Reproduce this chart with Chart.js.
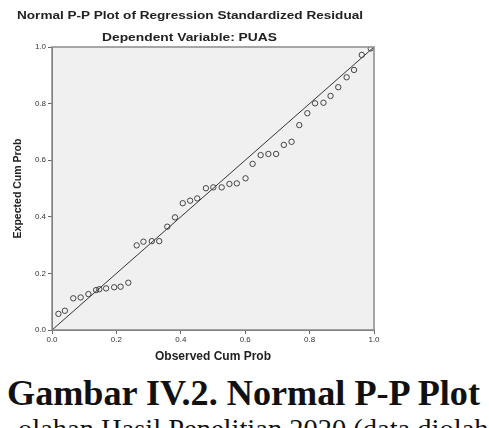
<!DOCTYPE html>
<html>
<head>
<meta charset="utf-8">
<script src="https://cdn.jsdelivr.net/npm/chart.js@4/dist/chart.umd.min.js"></script>
<style>
  html, body { margin: 0; padding: 0; background: #fff; overflow: hidden; }
  #wrap { position: relative; width: 489px; height: 428px; }
  #chart { position: absolute; left: 0; top: 0; }
  .txt { position: absolute; white-space: nowrap; transform-origin: 0 50%; }
  .small { font-family: "Liberation Sans", Arial, sans-serif; font-weight: bold; color: #222; }
  .serif { font-family: "Liberation Serif", "Times New Roman", serif; color: #111; }
</style>
</head>
<body>
<div id="wrap">
  <canvas id="chart" width="489" height="370"></canvas>
  <div class="txt small" id="t1" style="left:17px; top:9px; font-size:11px;">Normal P-P Plot of Regression Standardized Residual</div>
  <div class="txt small" id="t2" style="left:102px; top:31px; font-size:11px;">Dependent Variable: PUAS</div>
  <div class="txt serif" id="cap" style="left:7px; top:374px; font-size:35px; font-weight:bold;">Gambar IV.2. Normal P-P Plot</div>
  <div class="txt serif" id="src" style="left:18px; top:414px; font-size:27px;">olahan Hasil Penelitian 2020 (data diolah)</div>
</div>
<script>
// Observed vs expected cumulative probability
const observed = [0.020, 0.040, 0.066, 0.089, 0.113, 0.137, 0.147, 0.168, 0.193, 0.213,
                  0.237, 0.263, 0.284, 0.310, 0.333, 0.358, 0.382, 0.406, 0.429, 0.451,
                  0.478, 0.501, 0.527, 0.551, 0.574, 0.601, 0.623, 0.648, 0.672, 0.696,
                  0.720, 0.744, 0.768, 0.793, 0.817, 0.843, 0.865, 0.889, 0.915, 0.938,
                  0.962, 0.990];
const expected = [0.057, 0.068, 0.112, 0.115, 0.127, 0.141, 0.144, 0.147, 0.151, 0.153,
                  0.167, 0.299, 0.312, 0.314, 0.314, 0.365, 0.398, 0.448, 0.457, 0.465,
                  0.501, 0.504, 0.504, 0.516, 0.518, 0.536, 0.587, 0.618, 0.622, 0.622,
                  0.654, 0.665, 0.724, 0.766, 0.801, 0.803, 0.827, 0.858, 0.893, 0.919,
                  0.972, 0.995];
const refLine = [0, 1];
const tickValues = [0, 0.2, 0.4, 0.6, 0.8, 1.0];

// stretch text to the width it has in the picture
function fitWidth(id, w) {
    const el = document.getElementById(id);
    const real = el.getBoundingClientRect().width;
    el.style.transform = 'scaleX(' + (w / real) + ')';
}
fitWidth('t1', 346);
fitWidth('t2', 175);
fitWidth('cap', 473);
fitWidth('src', 480);

const plotFrame = {
    id: 'plotFrame',
    beforeDraw(chart) {
        const a = chart.chartArea, ctx = chart.ctx;
        ctx.save();
        ctx.fillStyle = '#f0f0f0';
        ctx.fillRect(a.left, a.top, a.right - a.left, a.bottom - a.top);
        ctx.restore();
    },
    afterDraw(chart) {
        const a = chart.chartArea, ctx = chart.ctx;
        ctx.save();
        ctx.strokeStyle = '#8a8a8a';
        ctx.lineWidth = 1.5;
        ctx.strokeRect(a.left, a.top, a.right - a.left, a.bottom - a.top);
        ctx.restore();
    }
};

const tickFont = { family: 'Liberation Sans, Arial, sans-serif', size: 8 };

new Chart(document.getElementById('chart'), {
    type: 'scatter',
    data: {
        datasets: [{
            label: 'Residual',
            data: observed.map((x, i) => ({ x: x, y: expected[i] })),
            pointStyle: 'circle',
            pointRadius: 2.7,
            pointBorderWidth: 1,
            borderColor: '#444',
            backgroundColor: 'rgba(0,0,0,0)'
        }, {
            type: 'line',
            label: 'Diagonal',
            data: refLine.map(v => ({ x: v, y: v })),
            borderColor: '#333',
            borderWidth: 1,
            pointRadius: 0,
            fill: false
        }]
    },
    options: {
        responsive: false,
        animation: false,
        layout: { padding: { top: 47, right: 115, left: 0, bottom: 0 } },
        plugins: { legend: { display: false }, tooltip: { enabled: false } },
        scales: {
            x: {
                type: 'linear', min: 0, max: 1,
                afterBuildTicks(s) { s.ticks = tickValues.map(v => ({ value: v })); },
                afterFit(s) { s.height = 40; },
                grid: { drawOnChartArea: false, tickLength: 4, color: '#666' },
                border: { color: '#666' },
                ticks: { font: tickFont, color: '#333', padding: 1, maxRotation: 0,
                         callback: v => v.toFixed(1) },
                title: { display: true, text: 'Observed Cum Prob', color: '#222',
                         font: { family: 'Liberation Sans, Arial, sans-serif', size: 12, weight: 'bold' },
                         padding: { top: 0, bottom: 6 } }
            },
            y: {
                type: 'linear', min: 0, max: 1,
                afterBuildTicks(s) { s.ticks = tickValues.map(v => ({ value: v })); },
                afterFit(s) { s.width = 52; },
                grid: { drawOnChartArea: false, tickLength: 4, color: '#666' },
                border: { color: '#666' },
                ticks: { font: tickFont, color: '#333', padding: 2,
                         callback: v => v.toFixed(1) },
                title: { display: true, text: 'Expected Cum Prob', color: '#222',
                         font: { family: 'Liberation Sans, Arial, sans-serif', size: 10.5, weight: 'bold' },
                         padding: { top: 12, bottom: 0 } }
            }
        }
    },
    plugins: [plotFrame]
});
</script>
</body>
</html>
